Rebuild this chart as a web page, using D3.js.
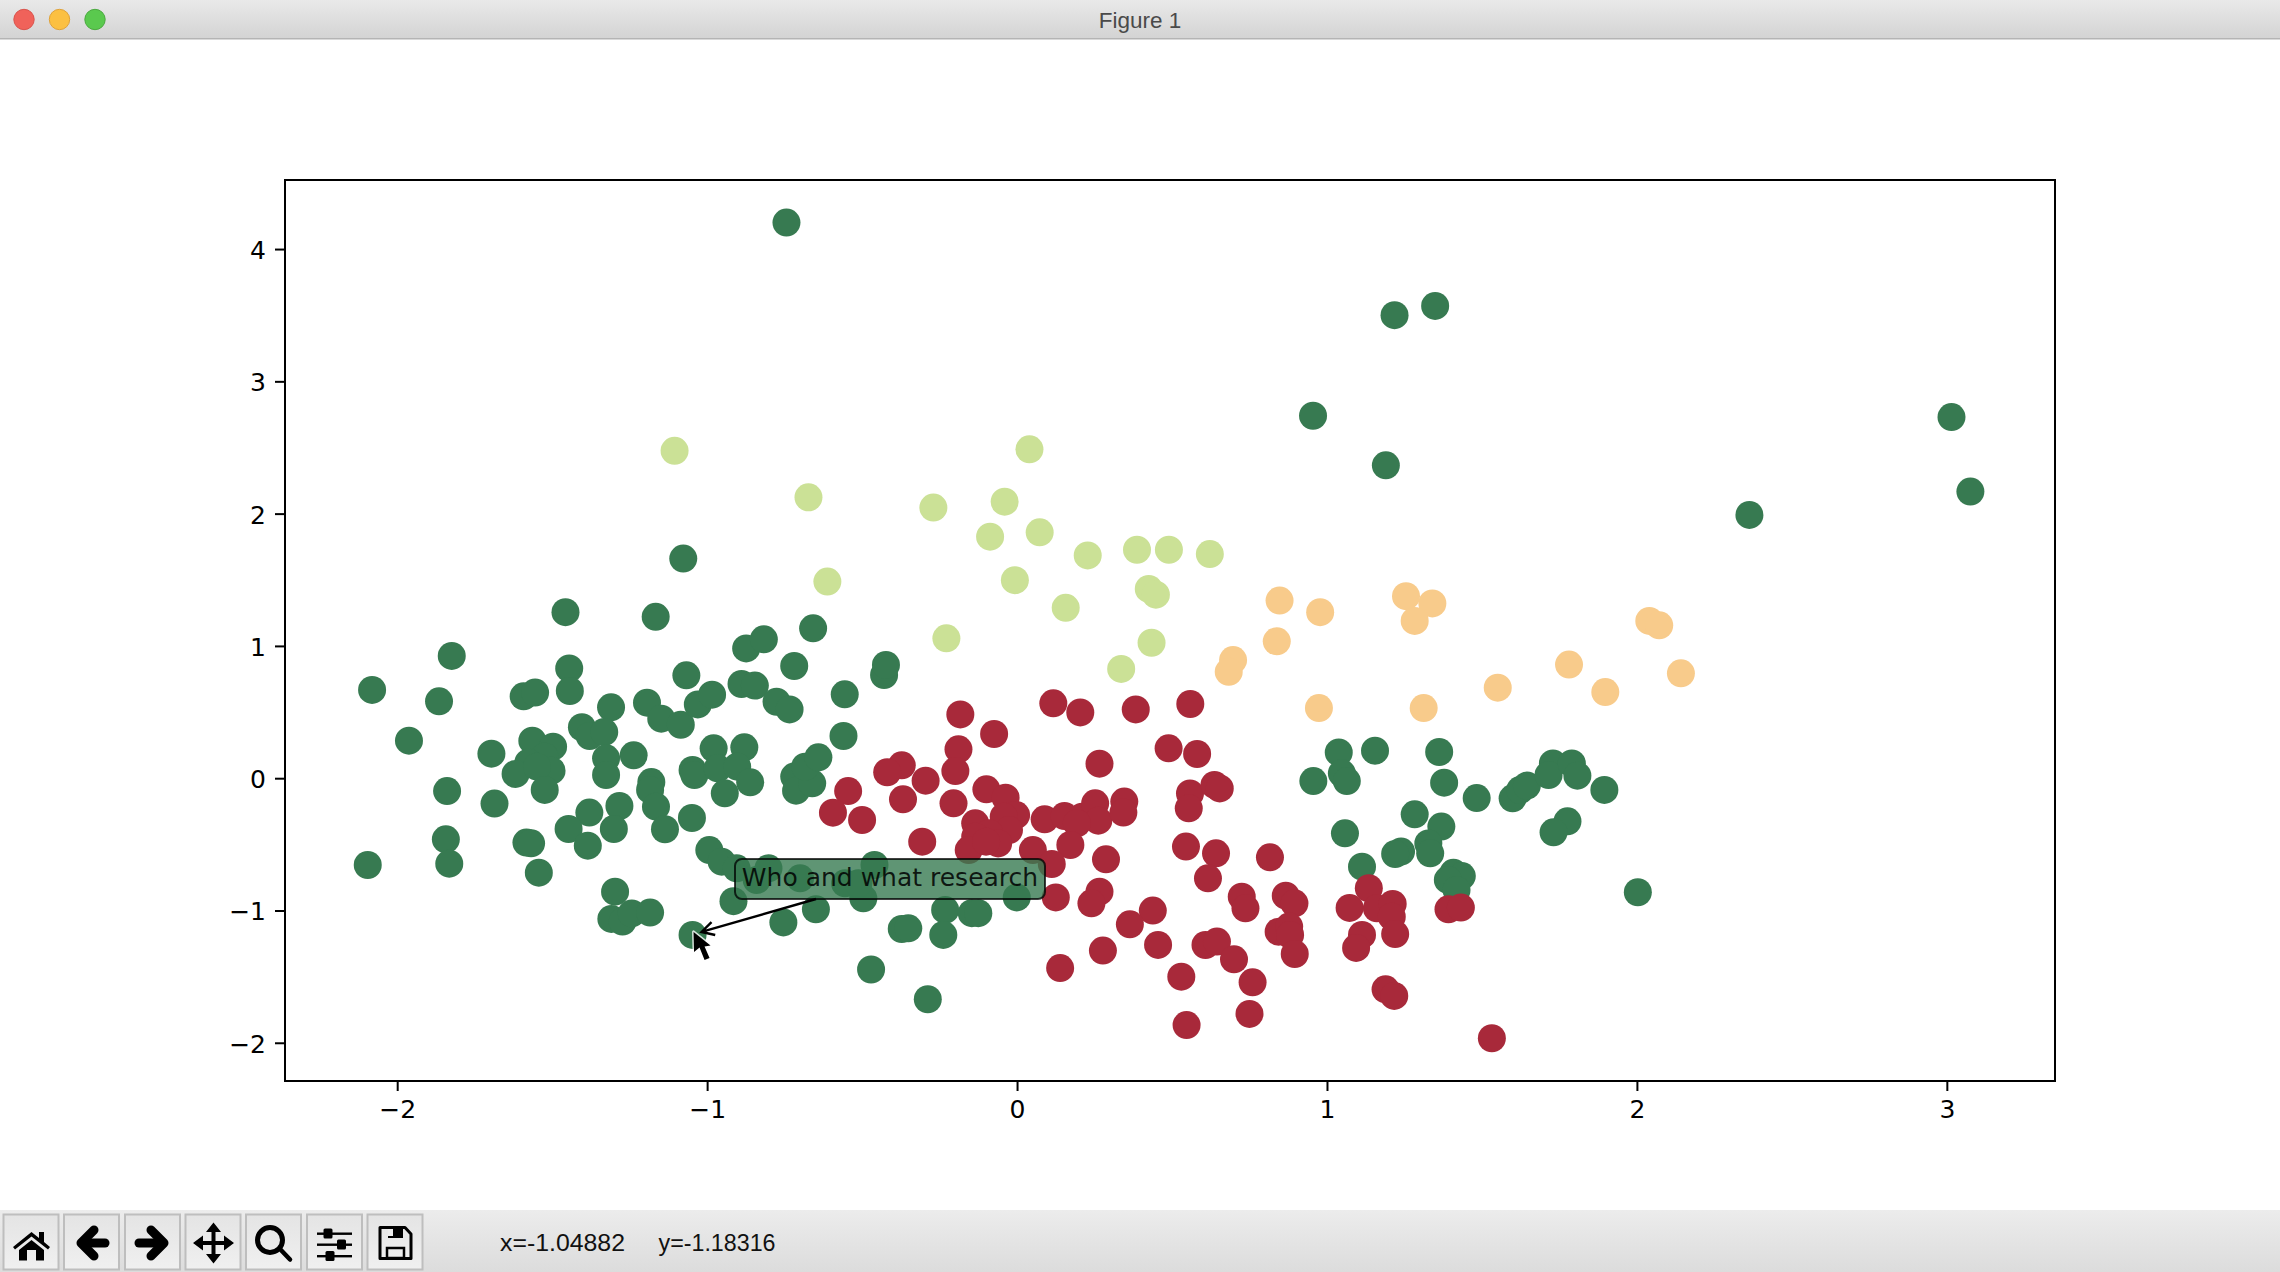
<!DOCTYPE html>
<html>
<head>
<meta charset="utf-8">
<title>Figure 1</title>
<script src="https://cdn.jsdelivr.net/npm/d3@7"></script>
<style>
  html, body { margin: 0; padding: 0; background: #fff; overflow: hidden; }
  svg { display: block; }
</style>
</head>
<body>
<svg id="figure" width="2280" height="1272"></svg>
<script>
// values, in data units
const x_ticks = [-2, -1, 0, 1, 2, 3]
const y_ticks = [-2, -1, 0, 1, 2, 3, 4]
const x_domain = [-2.362, 3.349]
const y_domain = [-2.289, 4.522]

const green_points = [
  [-0.744, 4.20], [1.218, 3.50], [1.349, 3.57], [0.955, 2.74], [1.19, 2.365], [3.015, 2.73], [3.076, 2.167], [2.363, 1.99],
  [-1.077, 1.66], [-1.457, 1.255], [-1.166, 1.22],
  [-2.081, 0.667], [-1.824, 0.924], [-1.865, 0.581], [-1.962, 0.284], [-1.696, 0.185], [-1.592, 0.619], [-1.555, 0.647],
  [-1.445, 0.83], [-1.443, 0.659], [-1.31, 0.536], [-1.404, 0.385], [-1.379, 0.319], [-1.332, 0.349], [-1.564, 0.284],
  [-1.497, 0.238], [-1.525, 0.163], [-1.502, 0.057], [-1.577, 0.117], [-1.618, 0.032], [-1.549, 0.087], [-1.524, -0.089],
  [-1.326, 0.15], [-1.326, 0.024], [-1.237, 0.173], [-1.18, -0.029], [-1.184, -0.089], [-1.165, -0.215], [-1.136, -0.386],
  [-1.283, -0.21], [-1.301, -0.384], [-1.38, -0.26], [-1.447, -0.384], [-1.385, -0.51], [-1.049, -0.301],
  [-1.839, -0.097], [-1.686, -0.192], [-1.843, -0.462], [-1.832, -0.646], [-1.583, -0.487], [-1.568, -0.492], [-1.543, -0.714],
  [-2.095, -0.656], [-1.297, -0.858], [-1.309, -1.064], [-1.273, -1.084], [-1.243, -1.022], [-1.184, -1.016], [-1.047, -1.185],
  [-0.915, -0.93], [-0.754, -1.09], [-0.649, -0.991], [-1.194, 0.571], [-1.148, 0.45], [-1.085, 0.404], [-1.067, 0.778],
  [-1.03, 0.558], [-0.984, 0.631], [-0.889, 0.712], [-0.846, 0.70], [-0.874, 0.981], [-0.817, 1.05], [-0.719, 0.848],
  [-0.658, 1.133], [-0.776, 0.578], [-0.734, 0.52], [-1.047, 0.062], [-1.041, 0.024], [-0.979, 0.226], [-0.88, 0.233],
  [-0.966, 0.075], [-0.903, 0.087], [-0.861, -0.031], [-0.943, -0.114], [-0.719, 0.012], [-0.713, -0.094], [-0.661, -0.039],
  [-0.684, 0.087], [-0.641, 0.158], [-0.993, -0.543], [-0.953, -0.631], [-0.905, -0.681], [-0.802, -0.681], [-0.84, -0.77],
  [-0.70, -0.757], [-0.555, -0.795], [-0.496, -0.908], [-0.46, -0.656], [-0.512, -0.795], [-0.232, -0.996], [-0.146, -1.02],
  [-0.125, -1.02], [-0.372, -1.14], [-0.351, -1.135], [-0.238, -1.185], [-0.471, -1.446], [-0.288, -1.671], [-0.001, -0.901],
  [-0.556, 0.634], [-0.56, 0.319], [-0.429, 0.78], [-0.423, 0.856],
  [1.038, 0.195], [1.155, 0.208], [1.362, 0.198], [0.956, -0.022], [1.048, 0.037], [1.064, -0.022], [1.378, -0.034],
  [1.483, -0.15], [1.599, -0.152], [1.623, -0.09], [1.645, -0.056], [1.729, 0.112], [1.715, 0.024], [1.79, 0.112],
  [1.808, 0.019], [1.895, -0.089], [1.776, -0.326], [1.731, -0.409], [1.283, -0.273], [1.369, -0.366], [1.058, -0.417],
  [1.113, -0.669], [1.239, -0.555], [1.22, -0.573], [1.327, -0.493], [1.333, -0.568], [1.408, -0.715], [1.435, -0.74],
  [1.39, -0.769], [1.418, -0.845], [2.003, -0.862]
]

const red_points = [
  [-0.183, 0.482], [-0.074, 0.334], [0.117, 0.566], [0.204, 0.497], [0.383, 0.52], [0.559, 0.561], [0.489, 0.226], [0.581, 0.183],
  [0.266, 0.11], [-0.189, 0.218], [-0.199, 0.054], [-0.372, 0.097], [-0.419, 0.045], [-0.295, -0.019], [-0.368, -0.16],
  [-0.545, -0.097], [-0.594, -0.261], [-0.50, -0.316], [-0.205, -0.19], [-0.099, -0.084], [-0.037, -0.147], [-0.003, -0.279],
  [-0.043, -0.291], [-0.026, -0.392], [-0.135, -0.341], [-0.09, -0.417], [-0.061, -0.493], [-0.135, -0.442], [-0.156, -0.543],
  [-0.10, -0.48], [-0.306, -0.48], [0.089, -0.311], [0.153, -0.286], [0.21, -0.291], [0.252, -0.19], [0.262, -0.321],
  [0.193, -0.341], [0.172, -0.505], [0.346, -0.177], [0.343, -0.26], [0.558, -0.115], [0.637, -0.051], [0.654, -0.077],
  [0.554, -0.228], [0.545, -0.517], [0.642, -0.568], [0.616, -0.757], [0.287, -0.613], [0.051, -0.543], [0.112, -0.649],
  [0.125, -0.901], [0.266, -0.858], [0.24, -0.946], [0.438, -1.001], [0.364, -1.105], [0.455, -1.26], [0.277, -1.303],
  [0.139, -1.435], [0.816, -0.598], [0.725, -0.896], [0.737, -0.984], [0.867, -0.888], [0.895, -0.946], [0.844, -1.16],
  [0.878, -1.122], [0.881, -1.185], [0.896, -1.329], [0.608, -1.261], [0.645, -1.235], [0.70, -1.369], [0.53, -1.5],
  [0.76, -1.543], [0.75, -1.782], [0.547, -1.866], [1.135, -0.832], [1.073, -0.981], [1.161, -0.984], [1.212, -0.951],
  [1.209, -1.047], [1.22, -1.178], [1.113, -1.185], [1.094, -1.283], [1.189, -1.596], [1.217, -1.646], [1.532, -1.966],
  [1.392, -0.991], [1.432, -0.978]
]

const orange_points = [
  [0.847, 1.343], [0.978, 1.255], [0.838, 1.035], [0.697, 0.893], [0.683, 0.804], [0.974, 0.53], [1.255, 1.376], [1.34, 1.321],
  [1.283, 1.189], [1.312, 0.53], [1.551, 0.684], [1.781, 0.859], [1.898, 0.651], [2.04, 1.189], [2.072, 1.156], [2.142, 0.793]
]

const lime_points = [
  [-1.105, 2.475], [-0.673, 2.123], [-0.612, 1.486], [-0.228, 1.057], [-0.27, 2.046], [-0.04, 2.09], [0.04, 2.486], [-0.087, 1.826],
  [0.073, 1.859], [-0.007, 1.497], [0.157, 1.288], [0.228, 1.684], [0.387, 1.727], [0.49, 1.727], [0.622, 1.694], [0.425, 1.431],
  [0.448, 1.387], [0.434, 1.024], [0.336, 0.826]
]

const annotated_point = [-1.047, -1.185]
const annotation_text = 'Who and what research'
const status_x = 'x=-1.04882'
const status_y = 'y=-1.18316'

const plot = { left: 285, right: 2055, top: 180, bottom: 1081 }
const point_radius = 14
const green = '#377a51'
const tick_font = '25px "DejaVu Sans"'

const svg = d3.select('#figure')
const x = d3.scaleLinear().domain(x_domain).range([plot.left, plot.right])
const y = d3.scaleLinear().domain(y_domain).range([plot.bottom, plot.top])

const defs = svg.append('defs')
function vertical_gradient(id, from, to) {
  const g = defs.append('linearGradient').attr('id', id).attr('x1', 0).attr('x2', 0).attr('y1', 0).attr('y2', 1)
  g.append('stop').attr('offset', '0%').attr('stop-color', from)
  g.append('stop').attr('offset', '100%').attr('stop-color', to)
}
vertical_gradient('title_bg', '#e9e9e9', '#d3d3d3')
vertical_gradient('tool_bg', '#ececec', '#dcdcdc')
vertical_gradient('button_bg', '#e4e4e4', '#f0f0f0')

function drawWindow() {
  svg.append('rect').attr('width', 2280).attr('height', 39).attr('fill', 'url(#title_bg)')
  svg.append('rect').attr('y', 38).attr('width', 2280).attr('height', 1.5).attr('fill', '#b4b4b4')

  const lights = [[24, '#f0625a', '#d9534c'], [59.5, '#fbc042', '#dfa23a'], [95, '#5ac94e', '#4aa93f']]
  lights.forEach(l => {
    svg.append('circle').attr('cx', l[0]).attr('cy', 19.5).attr('r', 10.2)
      .attr('fill', l[1]).attr('stroke', l[2]).attr('stroke-width', 1)
  })

  svg.append('text').text('Figure 1')
    .attr('x', 1140).attr('y', 27.5).attr('text-anchor', 'middle')
    .attr('font-family', '"Liberation Sans"').attr('font-size', 22.5).attr('fill', '#4a4a4a')
}

function drawAxes() {
  svg.append('rect')
    .attr('x', plot.left).attr('y', plot.top)
    .attr('width', plot.right - plot.left).attr('height', plot.bottom - plot.top)
    .attr('fill', '#fff').attr('stroke', '#000').attr('stroke-width', 2)

  const tick_format = d3.format('d')
  const x_axis = svg.append('g')
    .attr('transform', `translate(0,${plot.bottom})`)
    .call(d3.axisBottom(x).tickValues(x_ticks).tickFormat(tick_format).tickSize(10).tickPadding(9))
  const y_axis = svg.append('g')
    .attr('transform', `translate(${plot.left},0)`)
    .call(d3.axisLeft(y).tickValues(y_ticks).tickFormat(tick_format).tickSize(10).tickPadding(9))

  ;[x_axis, y_axis].forEach(a => {
    a.select('.domain').remove()
    a.selectAll('line').attr('stroke', '#000').attr('stroke-width', 2)
    a.selectAll('text').style('font', tick_font).attr('fill', '#000')
  })
  y_axis.selectAll('text').attr('dy', '0.38em')
}

function drawPoints(points, color, cls) {
  svg.selectAll('circle.' + cls).data(points).join('circle')
    .attr('class', cls)
    .attr('cx', d => x(d[0])).attr('cy', d => y(d[1]))
    .attr('r', point_radius).attr('fill', color)
}

function drawAnnotation() {
  const box = { x: 735, y: 859, w: 310, h: 40 }
  svg.append('rect')
    .attr('x', box.x).attr('y', box.y).attr('width', box.w).attr('height', box.h)
    .attr('rx', 7).attr('ry', 7)
    .attr('fill', green).attr('fill-opacity', 0.8)
    .attr('stroke', '#000').attr('stroke-opacity', 0.75).attr('stroke-width', 2)
  svg.append('text').text(annotation_text)
    .attr('x', box.x + box.w / 2).attr('y', box.y + 27)
    .attr('text-anchor', 'middle')
    .style('font', tick_font).attr('fill', '#000').attr('fill-opacity', 0.85)

  // arrow runs from the box to just off the annotated point
  const tip = [x(annotated_point[0]) + 9, y(annotated_point[1]) - 3]
  const tail = [816, box.y + box.h]
  const angle = Math.atan2(tail[1] - tip[1], tail[0] - tip[0])
  const head = 14
  const arrow = d3.path()
  arrow.moveTo(tail[0], tail[1])
  arrow.lineTo(tip[0], tip[1])
  arrow.moveTo(tip[0] + head * Math.cos(angle - 0.5), tip[1] + head * Math.sin(angle - 0.5))
  arrow.lineTo(tip[0], tip[1])
  arrow.lineTo(tip[0] + head * Math.cos(angle + 0.5), tip[1] + head * Math.sin(angle + 0.5))
  svg.append('path').attr('d', arrow.toString())
    .attr('fill', 'none').attr('stroke', '#000').attr('stroke-width', 2.4)
}

function drawCursor() {
  const cursor = 'M0,0 L0.5,20 L6,15.5 L11,28 L16,26 L11,14.5 L17,13.5 Z'
  const at = `translate(${x(annotated_point[0]) + 1},${y(annotated_point[1]) - 3})`
  svg.append('path').attr('transform', at).attr('d', cursor)
    .attr('fill', '#000').attr('stroke', '#fff').attr('stroke-width', 3)
    .attr('stroke-opacity', 0.8).attr('stroke-linejoin', 'round').attr('paint-order', 'stroke')
}

function drawToolbar() {
  svg.append('rect').attr('y', 1210).attr('width', 2280).attr('height', 62).attr('fill', 'url(#tool_bg)')

  const buttons = [3.5, 64, 125, 185.5, 246, 307, 367.5]
  buttons.forEach(b => {
    svg.append('rect').attr('x', b).attr('y', 1214.5).attr('width', 55).attr('height', 55)
      .attr('fill', 'url(#button_bg)').attr('stroke', '#bebebe').attr('stroke-width', 2)
  })

  const icons = svg.append('g').attr('fill', '#000').attr('stroke', 'none')
  const line = (d, w) => icons.append('path').attr('d', d).attr('fill', 'none').attr('stroke', '#000')
    .attr('stroke-width', w).attr('stroke-linecap', 'round').attr('stroke-linejoin', 'round')
  // home
  icons.append('path').attr('d', 'M31.5,1232 L39,1238 L39,1232 L44,1232 L44,1242 L50,1247 L48,1249.5 L31.5,1236.5 L15,1249.5 L13,1247 Z')
  icons.append('path').attr('d', 'M31.5,1240 L44,1250 L44,1260.5 L36,1260.5 L36,1250 L27,1250 L27,1260.5 L19,1260.5 L19,1250 Z')
  // back, forward
  line('M94,1230 L81,1243 L94,1256', 9)
  line('M83,1243 L105,1243', 9)
  line('M151,1230 L164,1243 L151,1256', 9)
  line('M162,1243 L139,1243', 9)
  // pan
  line('M213.5,1228 L213.5,1258', 4)
  line('M198,1243 L229,1243', 4)
  icons.append('path').attr('d', 'M213.5,1222.5 L221,1232 L206,1232 Z M213.5,1263.5 L221,1254 L206,1254 Z M193,1243 L203,1235.5 L203,1250.5 Z M234,1243 L224,1235.5 L224,1250.5 Z')
  // zoom
  icons.append('circle').attr('cx', 270).attr('cy', 1240).attr('r', 12.5)
    .attr('fill', 'none').attr('stroke', '#000').attr('stroke-width', 5)
  line('M280,1249 L290,1259.5', 4.5)
  // sliders
  ;[[1233.5, 328], [1244.5, 341.5], [1256, 330]].forEach(r => {
    icons.append('rect').attr('x', 317).attr('y', r[0] - 1).attr('width', 35).attr('height', 2.4)
    icons.append('rect').attr('x', r[1] - 4.5).attr('y', r[0] - 5).attr('width', 9).attr('height', 10).attr('rx', 1.5)
  })
  // save
  svg.append('path').attr('d', 'M380,1227.5 L405,1227.5 L411,1234 L411,1258.5 L380,1258.5 Z')
    .attr('fill', 'none').attr('stroke', '#000').attr('stroke-width', 3).attr('stroke-linejoin', 'round')
  icons.append('rect').attr('x', 388).attr('y', 1227).attr('width', 15).attr('height', 11)
  svg.append('rect').attr('x', 388).attr('y', 1229).attr('width', 5).attr('height', 7).attr('fill', '#ececec')
  svg.append('rect').attr('x', 387).attr('y', 1248).attr('width', 17).attr('height', 10)
    .attr('fill', 'none').attr('stroke', '#000').attr('stroke-width', 2.5)

  const status = [[500, status_x, 125], [658.5, status_y, 117]]
  status.forEach(s => {
    svg.append('text').text(s[1]).attr('x', s[0]).attr('y', 1251)
      .attr('textLength', s[2]).attr('lengthAdjust', 'spacingAndGlyphs')
      .attr('font-family', '"Liberation Sans"').attr('font-size', 24).attr('fill', '#111')
  })
}

drawWindow()
drawAxes()
drawPoints(green_points, green, 'green')
drawPoints(red_points, '#a8293a', 'red')
drawPoints(orange_points, '#f8cb8b', 'orange')
drawPoints(lime_points, '#cbe196', 'lime')
drawAnnotation()
drawCursor()
drawToolbar()
</script>
</body>
</html>
